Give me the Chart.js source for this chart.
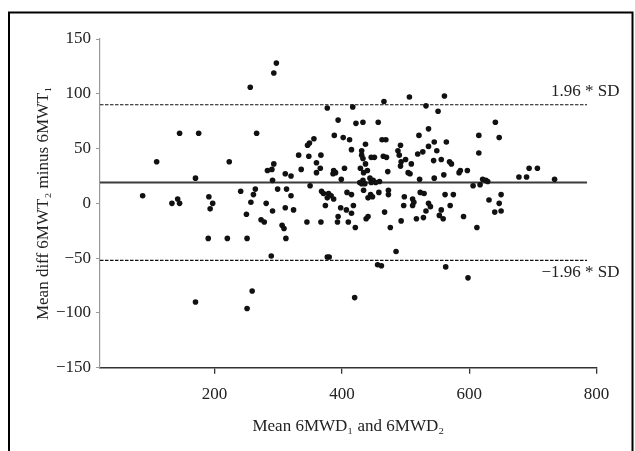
<!DOCTYPE html>
<html>
<head>
<meta charset="utf-8">
<script src="https://cdn.jsdelivr.net/npm/chart.js@4"></script>
<style>
html,body{margin:0;padding:0;background:#fff}
#wrap{width:635px;height:451px;position:relative}
</style>
</head>
<body>
<div id="wrap"><canvas id="c"></canvas></div>
<script>
// ---- data ----
const meanValues = [
 297,293,256,145,175,266,377,417,466,506,532,394,422,433,457,521,388,402,412,463,
 469,356,349,346,437,415,431,492,488,561,551,641,536,615,647,545,564,536,549,527,
 615,109,223,170,87,133,142,145,191,197,193,241,264,261,257,250,273,278,281,291,
 291,299,283,290,293,332,348,367,431,433,446,451,465,470,490,519,360,366,360,336,
 311,320,387,390,386,404,399,429,434,440,437,428,433,436,431,444,449,453,446,459,
 472,492,493,500,509,504,507,522,313,320,350,368,371,379,383,377,387,374,408,415,
 418,434,441,445,448,458,473,473,498,497,511,513,511,523,529,311,324,306,309,345,
 367,393,394,398,407,415,410,421,438,441,467,476,493,517,528,544,556,569,572,586,
 584,597,560,545,694,707,678,690,734,621,626,629,617,606,562,575,650,631,647,650,
 640,536,539,570,532,556,553,559,591,612,190,220,251,312,289,377,380,259,170,251,
 485,456,462,563,598,420
];
const diffValues = [
 128,119,106,64,64,64,87,88,93,97,89,76,73,74,74,62,62,60,58,58,
 58,59,55,53,54,49,48,53,48,98,84,74,68,62,60,56,56,52,48,47,
 46,38,38,23,7,0,4,0,6,0,-5,11,13,8,1,-10,-15,-17,0,-7,
 21,13,30,31,36,44,43,44,44,41,42,42,43,42,44,45,37,32,28,31,
 27,25,30,28,27,32,22,32,28,30,36,19,21,18,18,23,21,19,19,20,
 29,34,38,40,36,28,27,22,13,7,16,11,9,9,7,5,4,-2,10,8,
 -2,12,5,8,6,10,12,8,6,-2,4,1,-2,10,9,-4,-6,-20,-23,-17,
 -17,-17,-12,-4,-6,-9,-17,-22,-14,-12,-8,-22,-16,-14,-13,39,40,38,36,30,
 28,30,26,23,32,32,24,24,22,22,21,20,17,16,8,8,8,3,0,-7,
 -8,0,-3,-2,-7,-6,-11,-14,-12,-22,-32,-32,-32,-32,-48,-49,-49,-80,-90,-96,
 -44,-56,-57,-58,-68,-86
];
const xTickValues = [200, 400, 600, 800];
const yTickValues = [-150, -100, -50, 0, 50, 100, 150];
const biasValue = 19;
const upperLimit = 90;
const lowerLimit = -52;
const lineSpan = [20, 785];
const upperLabel = '1.96 * SD';
const lowerLabel = '\u22121.96 * SD';
const xTitle = 'Mean 6MWD\u2081 and 6MWD\u2082';
const yTitle = 'Mean diff 6MWT\u2082 minus 6MWT\u2081';

const FONT = "'Liberation Serif', 'Times New Roman', serif";

const points = meanValues.map((x, i) => ({x: x, y: diffValues[i]}));
const hLine = v => lineSpan.map(x => ({x: x, y: v}));
const fmt = v => (v < 0 ? '\u2212' + Math.abs(v) : String(v));

const decor = {
  id: 'decor',
  beforeDraw(chart) {
    const ctx = chart.ctx;
    ctx.save();
    ctx.fillStyle = '#fff';
    ctx.fillRect(0, 0, chart.width, chart.height);
    ctx.restore();
  },
  afterDraw(chart) {
    const ctx = chart.ctx;
    const ys = chart.scales.y;
    const area = chart.chartArea;
    ctx.save();
    ctx.strokeStyle = '#000';
    ctx.lineWidth = 2;
    ctx.strokeRect(9, 12.5, 623.5, 460);
    ctx.fillStyle = '#222';
    ctx.font = '17px ' + FONT;
    ctx.textAlign = 'right';
    ctx.textBaseline = 'alphabetic';
    const xr = area.right + 23;
    ctx.fillText(upperLabel, xr, ys.getPixelForValue(upperLimit) - 9);
    ctx.fillText(lowerLabel, xr, ys.getPixelForValue(lowerLimit) + 17);
    ctx.restore();
  }
};

new Chart(document.getElementById('c'), {
  data: {
    datasets: [
      {type: 'scatter', data: points, pointRadius: 2.8, pointHoverRadius: 2.8,
       backgroundColor: '#111', borderWidth: 0, order: 0},
      {type: 'line', data: hLine(biasValue), borderColor: '#3c3c3c', borderWidth: 2,
       pointRadius: 0, fill: false, order: 1},
      {type: 'line', data: hLine(upperLimit), borderColor: '#111', borderWidth: 1.2,
       borderDash: [3.5, 1.5], pointRadius: 0, fill: false, order: 1},
      {type: 'line', data: hLine(lowerLimit), borderColor: '#111', borderWidth: 1.2,
       borderDash: [3.5, 1.5], pointRadius: 0, fill: false, order: 1}
    ]
  },
  options: {
    responsive: true,
    maintainAspectRatio: false,
    animation: false,
    layout: {padding: {top: 39, right: 38.4, left: 0, bottom: 0}},
    plugins: {legend: {display: false}, tooltip: {enabled: false}},
    scales: {
      x: {
        type: 'linear', position: 'bottom', min: 20, max: 800,
        afterBuildTicks: s => { s.ticks = xTickValues.map(v => ({value: v})); },
        afterFit: s => { s.height = 83.3; },
        ticks: {font: {family: FONT, size: 17}, color: '#222', padding: 11, maxRotation: 0},
        grid: {drawOnChartArea: false, drawTicks: true, tickLength: 6, color: '#333', lineWidth: 1.3},
        border: {display: true, color: '#333', width: 1.5},
        title: {display: true, text: xTitle, color: '#222', font: {family: FONT, size: 17},
                padding: {top: 0, bottom: 14}}
      },
      y: {
        type: 'linear', position: 'left', min: -150, max: 150,
        afterBuildTicks: s => { s.ticks = yTickValues.map(v => ({value: v})); },
        afterFit: s => { s.width = 100; },
        ticks: {font: {family: FONT, size: 17}, color: '#222', padding: 5, callback: v => fmt(v)},
        grid: {drawOnChartArea: false, drawTicks: true, tickLength: 4, color: '#999', lineWidth: 1},
        border: {display: true, color: '#999', width: 1.2},
        title: {display: true, text: yTitle, color: '#222', font: {family: FONT, size: 17},
                padding: {top: 33, bottom: 0}}
      }
    }
  },
  plugins: [decor]
});
</script>
</body>
</html>
